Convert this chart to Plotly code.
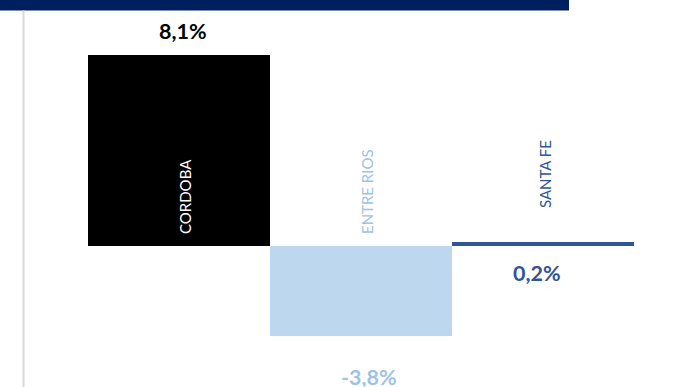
import plotly.graph_objects as go

categories = ["CORDOBA", "ENTRE RIOS", "SANTA FE"]
values = [8.1, -3.8, 0.2]
value_labels = ["8,1%", "-3,8%", "0,2%"]

bar_colors = ["#000000", "#BDD7EE", "#2F5597"]
value_colors = ["#000000", "#9DC3E6", "#2F5597"]
name_colors = ["#FFFFFF", "#9DC3E6", "#2F5597"]

W, H = 680, 387
ML, MR, MT, MB = 88, 46, 0, 0
px_per_unit = 23.6
zero_px = 246.3
y_top = zero_px / px_per_unit
y_bot = -(H - zero_px) / px_per_unit

fig = go.Figure()
fig.add_trace(go.Bar(
    x=list(range(len(categories))), y=values,
    marker=dict(color=bar_colors, line=dict(width=0)),
    width=1.0, hoverinfo="skip", showlegend=False,
))

# value label offsets (pixels relative to the bar end) and name label pixel positions
value_shift = [24, -41, -31]
value_xshift = [4, 8, -6]
name_center_px = [197, 192, 174]
name_xshift = [6, 6, 2]

for i, c in enumerate(categories):
    fig.add_annotation(
        x=i, y=values[i], xref="x", yref="y", text=value_labels[i],
        showarrow=False, yshift=value_shift[i], xshift=value_xshift[i],
        font=dict(family="Lato", size=21.5, color=value_colors[i], weight="bold"),
    )
    fig.add_annotation(
        x=i, y=(zero_px - name_center_px[i]) / px_per_unit, xref="x", yref="y",
        text=c, textangle=-90, showarrow=False, xshift=name_xshift[i],
        font=dict(family="Lato", size=15, color=name_colors[i]),
    )

pw = W - ML - MR
def px2paper_x(p):
    return (p - ML) / pw
def px2paper_y(p):
    return 1 - p / (H - MT - MB)

fig.add_shape(type="rect", xref="paper", yref="paper",
              x0=px2paper_x(0), x1=px2paper_x(569), y0=px2paper_y(10.5), y1=1.0,
              fillcolor="#001F5F", line=dict(width=0), layer="above")
fig.add_shape(type="line", xref="paper", yref="paper",
              x0=px2paper_x(23.5), x1=px2paper_x(23.5), y0=0, y1=px2paper_y(10.5),
              line=dict(color="#D9D9D9", width=2))

fig.update_layout(
    width=W, height=H,
    margin=dict(l=ML, r=MR, t=MT, b=MB),
    paper_bgcolor="white", plot_bgcolor="white",
    bargap=0,
    xaxis=dict(range=[-0.5, 2.5], visible=False, fixedrange=True),
    yaxis=dict(range=[y_bot, y_top], visible=False, fixedrange=True),
)

fig.write_html(
    "out.html",
    config={"displayModeBar": False},
    post_script="document.body.style.margin='0';document.body.style.overflow='hidden';",
)
